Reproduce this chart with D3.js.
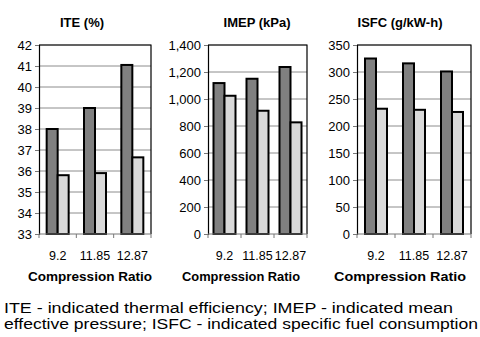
<!DOCTYPE html>
<html>
<head>
<meta charset="UTF-8">
<script src="https://cdnjs.cloudflare.com/ajax/libs/d3/7.8.5/d3.min.js"></script>
<style>
  body { margin: 0; background: #fff; }
  text { font-family: "Liberation Sans", Arial, sans-serif; }
</style>
</head>
<body>
<script>
var ratios = ['9.2', '11.85', '12.87'];

// two series per panel: dark bars and light bars
var iteDark = [38.0, 39.0, 41.05];
var iteLight = [35.8, 35.9, 36.65];
var imepDark = [1118, 1150, 1237];
var imepLight = [1024, 913, 827];
var isfcDark = [325, 316, 301];
var isfcLight = [232, 230, 226];

var iteTicks = [33, 34, 35, 36, 37, 38, 39, 40, 41, 42];
var imepTicks = [0, 200, 400, 600, 800, 1000, 1200, 1400];
var isfcTicks = [0, 50, 100, 150, 200, 250, 300, 350];

var panels = [
  { title: 'ITE (%)', dark: iteDark, light: iteLight, ticks: iteTicks, fmt: d3.format('d'),
    left: 39, right: 151, titleX: 82, labelX: 90, labelW: 124 },
  { title: 'IMEP (kPa)', dark: imepDark, light: imepLight, ticks: imepTicks, fmt: d3.format(','),
    left: 208, right: 307, titleX: 257, labelX: 241, labelW: 118 },
  { title: 'ISFC (g/kW-h)', dark: isfcDark, light: isfcLight, ticks: isfcTicks, fmt: d3.format('d'),
    left: 357, right: 471, titleX: 400, labelX: 400, labelW: 132 }
];

var plotTop = 45, plotBottom = 234;

var svg = d3.select('body').append('svg')
  .attr('width', 480).attr('height', 337);

panels.forEach(function (p) {
  var x = d3.scaleBand().domain(ratios).range([p.left, p.right]);
  var y = d3.scaleLinear().domain([p.ticks[0], p.ticks[p.ticks.length - 1]]).range([plotBottom, plotTop]);
  var g = svg.append('g');

  // gridlines
  g.selectAll('.grid').data(p.ticks.slice(1)).enter().append('line')
    .attr('x1', p.left).attr('x2', p.right)
    .attr('y1', function (d) { return y(d); }).attr('y2', function (d) { return y(d); })
    .attr('stroke', '#8c8c8c').attr('stroke-width', 1);

  // top / right frame
  g.append('path')
    .attr('d', 'M' + p.left + ',' + plotTop + 'H' + p.right + 'V' + plotBottom)
    .attr('fill', 'none').attr('stroke', '#000').attr('stroke-width', 1.2);

  // bars
  var bw = 11;
  ratios.forEach(function (r, i) {
    var cx = x(r) + x.bandwidth() / 2;
    [[p.dark[i], '#808080', cx - bw], [p.light[i], '#d9d9d9', cx]].forEach(function (b) {
      g.append('rect')
        .attr('x', b[2]).attr('width', bw)
        .attr('y', y(b[0])).attr('height', plotBottom - y(b[0]))
        .attr('fill', b[1]).attr('stroke', '#000').attr('stroke-width', 2);
    });
  });

  // y axis
  var yAxis = d3.axisLeft(y).tickValues(p.ticks).tickFormat(p.fmt).tickSize(4).tickPadding(3);
  var ya = g.append('g').attr('transform', 'translate(' + p.left + ',0)').call(yAxis);
  ya.select('.domain').attr('stroke', '#000').attr('stroke-width', 1.2);
  ya.selectAll('.tick line').attr('stroke', '#777');
  ya.selectAll('text').style('font-size', '13px').attr('fill', '#000')
    .style('font-family', '"Liberation Sans", Arial, sans-serif');

  // x axis, ticks at band edges
  g.append('line').attr('x1', p.left).attr('x2', p.right).attr('y1', plotBottom).attr('y2', plotBottom)
    .attr('stroke', '#777');
  var edges = ratios.map(function (r) { return x(r); }).concat([p.right]);
  g.selectAll('.xt').data(edges).enter().append('line')
    .attr('x1', function (d) { return d; }).attr('x2', function (d) { return d; })
    .attr('y1', plotBottom).attr('y2', plotBottom + 4).attr('stroke', '#777');
  g.selectAll('.xl').data(ratios).enter().append('text')
    .attr('x', function (d) { return x(d) + x.bandwidth() / 2; })
    .attr('y', 260).attr('text-anchor', 'middle')
    .style('font-size', '12.5px').text(function (d) { return d; });

  // titles
  g.append('text').attr('x', p.titleX).attr('y', 27).attr('text-anchor', 'middle')
    .style('font-size', '13px').style('font-weight', 'bold').text(p.title);
  g.append('text').attr('x', p.labelX).attr('y', 281).attr('text-anchor', 'middle')
    .style('font-size', '12.5px').style('font-weight', 'bold')
    .attr('textLength', p.labelW).attr('lengthAdjust', 'spacingAndGlyphs').text('Compression Ratio');
});

// footnote
svg.append('text').attr('x', 4).attr('y', 313).style('font-size', '14px')
  .attr('textLength', 449).attr('lengthAdjust', 'spacingAndGlyphs')
  .text('ITE - indicated thermal efficiency; IMEP - indicated mean');
svg.append('text').attr('x', 4).attr('y', 329).style('font-size', '14px')
  .attr('textLength', 474).attr('lengthAdjust', 'spacingAndGlyphs')
  .text('effective pressure; ISFC - indicated specific fuel consumption');
</script>
</body>
</html>
